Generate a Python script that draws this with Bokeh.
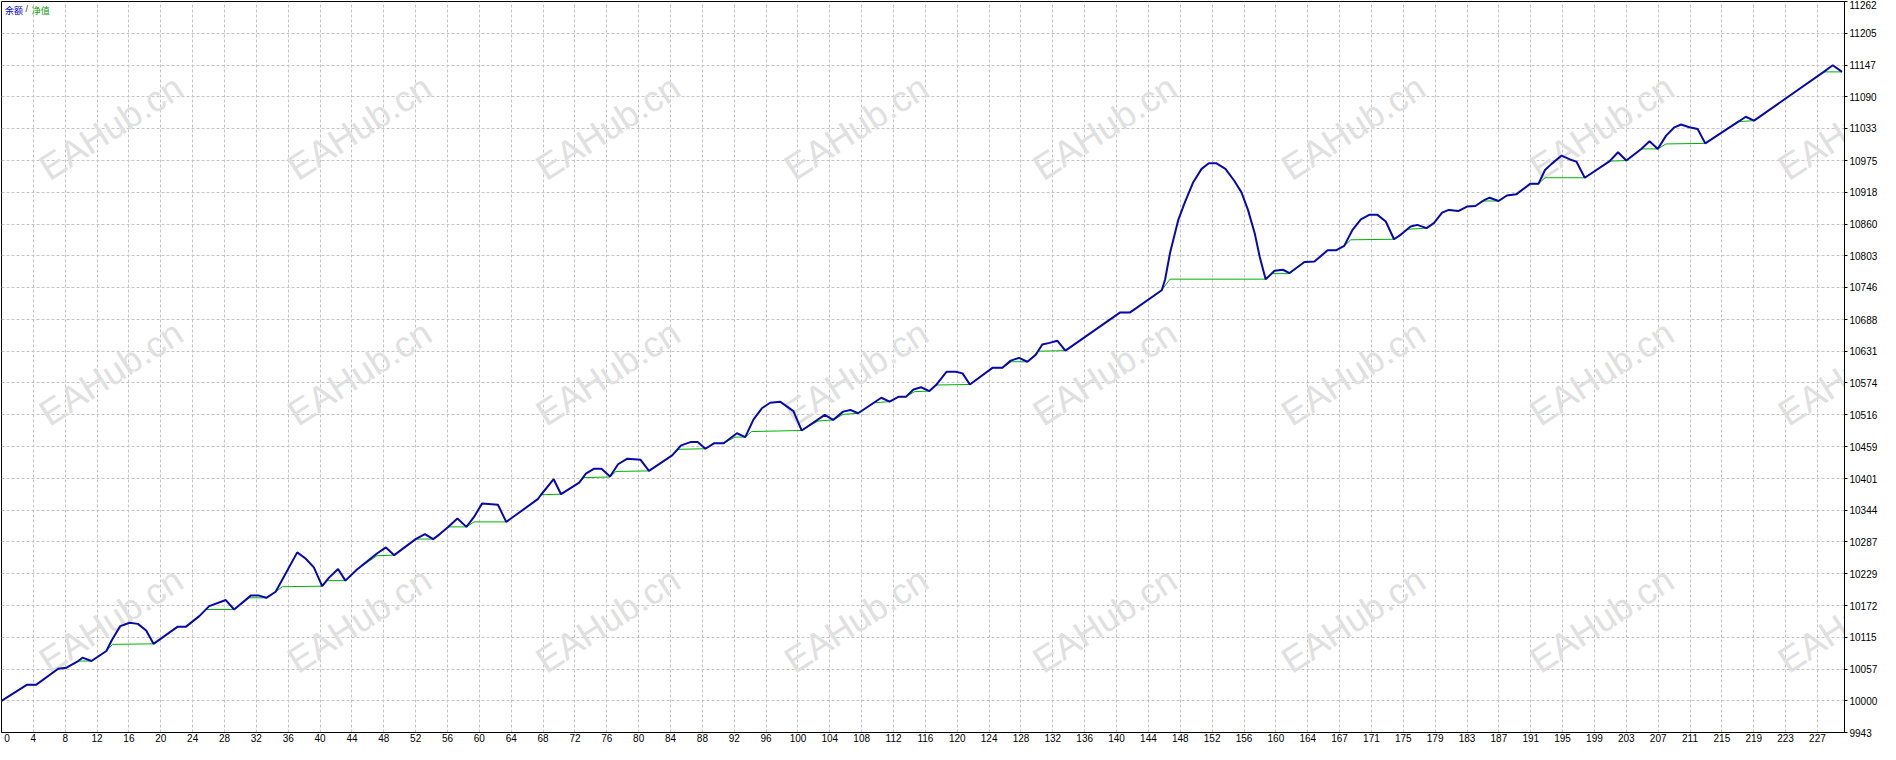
from bokeh.plotting import figure
from bokeh.models import ColumnDataSource, FixedTicker, Label, Range1d
from bokeh.core.properties import value
from bokeh.embed import file_html
from bokeh.resources import INLINE

# trade number / balance (blue line)
balance_x = [0, 3.16, 4.32, 7.10, 8.14, 9.60, 10.14, 11.26, 13.13, 13.75, 14.87, 16.04, 17.07, 18.11, 19.03,
             22.06, 23.10, 24.76, 26.0, 28.08, 29.12, 31.2, 32.24, 33.15, 34.32, 37.02, 38.06, 39.10, 40.14,
             40.97, 42.13, 43.05, 44.5, 47.0, 48.12, 49.16, 51.84, 53.0, 54.04, 54.87, 55.91, 57.07, 58.2,
             59.15, 60.15, 62.14, 63.18, 67.13, 67.54, 69.12, 70.04, 72.32, 73.15, 74.19, 75.1, 76.18, 77.18,
             78.34, 80.0, 81.05, 83.95, 85.07, 86.24, 87.15, 88.11, 89.23, 90.4, 92.06, 93.1, 94.14, 95.18,
             96.22, 97.46, 99.13, 100.16, 103.06, 104.1, 105.35, 106.26, 107.22, 110.13, 111.17, 112.33,
             113.24, 114.16, 115.11, 116.15, 116.98, 118.31, 119.47, 120.3, 121.22, 124.04, 125.29, 126.33,
             127.37, 128.41, 129.45, 130.28, 131.2, 132.15, 133.18, 140.04, 141.28, 145.23, 145.65, 146.27,
             147.31, 148.14, 149.18, 150.22, 151.13, 152.09, 153.21, 154.29, 155.2, 156.03, 156.87, 157.49,
             158.24, 159.36, 160.4, 161.23, 163.1, 164.35, 166.0, 167.04, 168.08, 169.12, 170.16, 171.2,
             172.24, 173.28, 174.31, 175.14, 176.39, 177.22, 178.38, 179.3, 180.33, 181.16, 182.41, 183.45,
             184.49, 185.53, 186.28, 187.4, 188.44, 189.6, 191.35, 192.39, 193.21, 194.04, 195.29, 196.32,
             197.15, 198.19, 201.31, 202.35, 203.39, 205.26, 206.3, 207.33, 208.37, 209.41, 210.24, 211.28,
             212.32, 213.27, 217.51, 218.34, 219.38, 228.1, 229.23, 230.39]
balance_y = [10000, 10029, 10029, 10058, 10060, 10072, 10078, 10072, 10090, 10108, 10135, 10141, 10139, 10127, 10103,
             10134, 10134, 10153, 10171, 10182, 10165, 10190, 10190, 10186, 10197, 10268, 10257, 10241, 10207,
             10222, 10238, 10217, 10237, 10266, 10277, 10263, 10292, 10301, 10292, 10301, 10314, 10329, 10314,
             10332, 10356, 10354, 10323, 10364, 10372, 10400, 10373, 10394, 10410, 10419, 10419, 10405, 10427,
             10437, 10435, 10415, 10443, 10461, 10467, 10467, 10455, 10465, 10465, 10483, 10476, 10508, 10528,
             10538, 10540, 10523, 10488, 10516, 10507, 10522, 10525, 10519, 10547, 10540, 10549,
             10549, 10562, 10566, 10559, 10570, 10594, 10594, 10591, 10571, 10601, 10601, 10614,
             10619, 10612, 10624, 10643, 10646, 10650, 10632, 10701, 10701, 10741, 10760, 10808,
             10868, 10900, 10936, 10960, 10970, 10970, 10960, 10939, 10918, 10886, 10844, 10802,
             10761, 10776, 10778, 10772, 10792, 10793, 10813, 10813, 10821, 10850, 10869, 10877,
             10877, 10865, 10833, 10841, 10856, 10859, 10853, 10862, 10881, 10886, 10884, 10892,
             10893, 10903, 10908, 10902, 10912, 10914, 10933, 10933, 10958, 10969, 10984, 10977,
             10973, 10944, 10974, 10990, 10975, 10996, 11010, 10996, 11020, 11035, 11040, 11035,
             11032, 11006, 11046, 11054, 11047, 11135, 11147, 11135]

# trade number / equity (green line)
equity_x = [0, 3.16, 4.32, 7.10, 8.14, 9.60, 11.26, 13.13, 13.9, 19.03, 22.06, 23.10, 24.76, 25.6, 29.12,
            31.0, 33.15, 34.32, 35.15, 40.14, 40.8, 43.05, 44.5, 47.0, 49.16, 51.84, 54.04, 55.91, 58.2,
            59.15, 63.18, 67.13, 67.54, 70.04, 72.32, 72.9, 76.18, 76.9, 81.05, 83.95, 84.8, 88.11, 89.23,
            90.4, 91.8, 93.1, 93.9, 100.16, 102.2, 104.1, 105.35, 107.22, 109.3, 111.17, 112.33, 113.24,
            114.3, 116.15, 116.98, 121.22, 124.04, 125.29, 126.4, 128.41, 129.8, 133.18, 140.04, 141.28,
            145.23, 146.27, 158.24, 159.1, 161.23, 163.1, 164.35, 166.0, 167.04, 168.08, 168.9, 174.31,
            175.97, 178.38, 179.3, 180.33, 181.16, 182.41, 183.45, 184.49, 185.3, 187.4, 188.44, 189.6,
            191.35, 192.39, 193.21, 198.19, 201.31, 203.39, 205.26, 207.33, 208.37, 213.27, 217.3, 219.38,
            228.1, 230.39]
equity_y = [10000, 10029, 10029, 10058, 10060, 10072, 10072, 10090, 10102, 10103, 10134, 10134, 10153, 10165, 10165,
            10186, 10186, 10197, 10206, 10207, 10217, 10217, 10237, 10262, 10263, 10292, 10292, 10314, 10314,
            10323, 10323, 10364, 10372, 10373, 10394, 10403, 10404, 10414, 10415, 10443, 10454, 10455, 10465,
            10465, 10476, 10476, 10486, 10488, 10505, 10507, 10517, 10519, 10538, 10540, 10549, 10549,
            10558, 10559, 10570, 10571, 10601, 10601, 10612, 10612, 10631, 10632, 10701, 10701,
            10741, 10761, 10761, 10771, 10771, 10792, 10793, 10813, 10813, 10821, 10832, 10833,
            10851, 10853, 10862, 10881, 10886, 10884, 10892, 10893, 10902, 10902, 10912, 10914,
            10933, 10933, 10944, 10944, 10974, 10975, 10996, 10996, 11005, 11006, 11045, 11047,
            11135, 11135]

x_tick_labels = ["0", "4", "8", "12", "16", "20", "24", "28", "32", "36", "40", "44", "48", "52", "56",
                 "60", "64", "68", "72", "76", "80", "84", "88", "92", "96", "100", "104", "108", "112",
                 "116", "120", "124", "128", "132", "136", "140", "144", "148", "152", "156", "160", "164",
                 "167", "171", "175", "179", "183", "187", "191", "195", "199", "203", "207", "211", "215",
                 "219", "223", "227"]
y_tick_labels = [9943, 10000, 10057, 10115, 10172, 10229, 10287, 10344, 10401, 10459, 10516, 10574,
                 10631, 10688, 10746, 10803, 10860, 10918, 10975, 11033, 11090, 11147, 11205, 11262]

# watermark grid
wm_x = [13.7, 44.8, 75.9, 107.0, 138.1, 169.2, 200.3, 231.4]
wm_y = [11035, 10592, 10146]

X_STEP = 3.988  # trades per vertical grid cell
X_MAX = 230.7
FIRST_LABEL_X = 0.7  # "0" label sits just inside the left edge

FONT = "Liberation Sans"

p = figure(width=1880, height=744, output_backend="svg", toolbar_location=None,
           x_range=Range1d(0, X_MAX), y_range=Range1d(y_tick_labels[0], y_tick_labels[-1]),
           y_axis_location="right", min_border=0, min_border_top=1, min_border_left=1,
           background_fill_color="white", border_fill_color="white")

p.outline_line_color = "black"
p.outline_line_width = 1

# ticks and grid
x_ticks = [round(i * X_STEP, 3) for i in range(len(x_tick_labels))]
label_ticks = [FIRST_LABEL_X] + x_ticks[1:]
p.xaxis.ticker = FixedTicker(ticks=label_ticks)
p.xaxis.major_label_overrides = dict(zip(label_ticks, x_tick_labels))
p.xgrid.ticker = FixedTicker(ticks=x_ticks)
p.yaxis.ticker = FixedTicker(ticks=y_tick_labels)
p.yaxis.major_label_overrides = {v: str(v) for v in y_tick_labels}

p.grid.grid_line_color = "#c4c4c4"
p.grid.grid_line_dash = "3 2"
p.grid.grid_line_width = 1

for ax in (p.xaxis, p.yaxis):
    ax.axis_line_color = "black"
    ax.major_tick_line_color = "black"
    ax.minor_tick_line_color = None
    ax.major_label_text_font = FONT
    ax.major_label_text_font_size = "10px"
    ax.major_label_text_color = "black"

p.xaxis.major_tick_out = 0
p.xaxis.major_tick_in = 0
p.xaxis.major_label_standoff = 1
p.xaxis.major_label_text_align = "right"
p.yaxis.major_tick_out = 3
p.yaxis.major_tick_in = 0
p.yaxis.major_label_standoff = 2

# watermarks
wm = ColumnDataSource(dict(
    x=[x for _ in wm_y for x in wm_x],
    y=[y for y in wm_y for _ in wm_x],
    t=["EAHub.cn"] * (len(wm_x) * len(wm_y)),
))
p.text("x", "y", text="t", source=wm, angle=0.57, text_align="center", text_baseline="middle",
       text_font=value(FONT), text_font_size="36px", text_color="#e0e0e0")

# lines
p.line(equity_x, equity_y, line_color="#00b400", line_width=1)
p.line(balance_x, balance_y, line_color="#0808b0", line_width=2)

# title
top = y_tick_labels[-1] - 4
p.add_layout(Label(x=0.45, y=top, text="余额", text_font="Noto Sans CJK SC", text_font_size="9px",
                   text_color="#0000c8", text_baseline="top"))
p.add_layout(Label(x=3.0, y=top, text="/", text_font=FONT, text_font_size="9px",
                   text_color="#303030", text_baseline="top"))
p.add_layout(Label(x=3.8, y=top, text="净值", text_font="Noto Sans CJK SC", text_font_size="9px",
                   text_color="#00a000", text_baseline="top"))

open("out.html", "w").write(file_html(p, INLINE))
